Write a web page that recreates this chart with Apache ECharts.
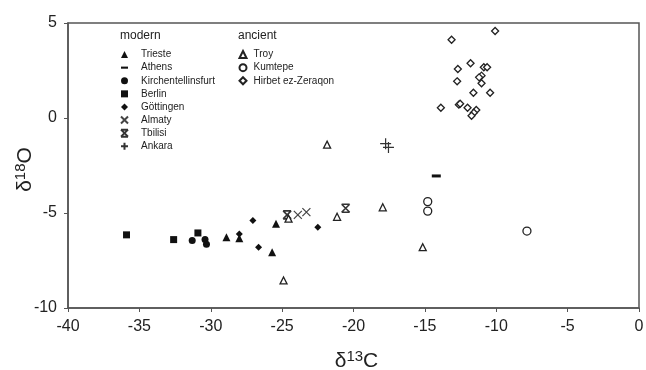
<!DOCTYPE html>
<html>
<head>
<meta charset="utf-8">
<script src="https://cdn.jsdelivr.net/npm/echarts@6/dist/echarts.min.js"></script>
<style>
  html, body { margin: 0; padding: 0; background: #fff; }
  #main { width: 646px; height: 370px; }
</style>
</head>
<body>
<div id="main"></div>
<script>
// tick labels
var xTicks = [-40, -35, -30, -25, -20, -15, -10, -5, 0];
var yTicks = [-10, -5, 0, 5];

// modern sites  [d13C, d18O]
var trieste = [[-28.9, -6.28], [-28.0, -6.33], [-25.7, -7.07], [-25.43, -5.56]];
var athens = [[-14.2, -3.05]];
var kirchentellinsfurt = [[-31.3, -6.45], [-30.4, -6.4], [-30.3, -6.65]];
var berlin = [[-35.9, -6.15], [-32.6, -6.4], [-30.9, -6.05]];
var goettingen = [[-28.0, -6.1], [-27.05, -5.4], [-26.65, -6.8], [-22.5, -5.75]];
var almaty = [[-23.9, -5.1], [-23.3, -4.95]];
var tbilisi = [[-24.65, -5.1], [-20.55, -4.75]];
var ankara = [[-17.75, -1.35], [-17.55, -1.55]];

// ancient sites
var troy = [[-21.85, -1.4], [-24.55, -5.3], [-21.15, -5.2], [-17.95, -4.7], [-15.15, -6.8], [-24.9, -8.55]];
var kumtepe = [[-14.8, -4.4], [-14.8, -4.9], [-7.85, -5.95]];
var hirbet = [[-10.08, 4.58], [-13.13, 4.12], [-11.8, 2.88], [-12.69, 2.58], [-10.87, 2.67], [-10.64, 2.67],
  [-11.03, 2.23], [-11.2, 2.14], [-11.03, 1.83], [-12.74, 1.93], [-11.6, 1.33], [-10.43, 1.33],
  [-13.88, 0.54], [-12.62, 0.7], [-12.53, 0.75], [-12.01, 0.54], [-11.4, 0.42], [-11.57, 0.28], [-11.73, 0.12]];

var modernNames = ['Trieste', 'Athens', 'Kirchentellinsfurt', 'Berlin', 'Göttingen', 'Almaty', 'Tbilisi', 'Ankara'];
var ancientNames = ['Troy', 'Kumtepe', 'Hirbet ez-Zeraqon'];

var ink = '#111';
function filled(name, data, symbol, size) {
  return { name: name, type: 'scatter', data: data, symbol: symbol, symbolSize: size,
    itemStyle: { color: ink, opacity: 1 } };
}
function open(name, data, symbol, size) {
  return { name: name, type: 'scatter', data: data, symbol: symbol, symbolSize: size,
    itemStyle: { color: '#fff', borderColor: '#222', borderWidth: 1.3, opacity: 1 } };
}
function stroked(name, data, path, size, col, w) {
  return { name: name, type: 'scatter', data: data, symbol: path, symbolSize: size,
    itemStyle: { color: 'none', borderColor: col, borderWidth: w, opacity: 1 } };
}

var series = [
  filled('Trieste', trieste, 'triangle', 8),
  filled('Athens', athens, 'path://M0,0H10V3H0Z', [9, 3]),
  filled('Kirchentellinsfurt', kirchentellinsfurt, 'circle', 7),
  filled('Berlin', berlin, 'rect', 7),
  filled('Göttingen', goettingen, 'diamond', 7),
  stroked('Almaty', almaty, 'path://M0,0L10,10M10,0L0,10', 8, '#444', 1.2),
  stroked('Tbilisi', tbilisi, 'path://M0,0H10M0,10H10M0,0L10,10M10,0L0,10', 8, '#333', 1.6),
  stroked('Ankara', ankara, 'path://M5,0V10M0,5H10', 11, '#333', 1.2),
  open('Troy', troy, 'triangle', 7),
  open('Kumtepe', kumtepe, 'circle', 8),
  open('Hirbet ez-Zeraqon', hirbet, 'diamond', 7)
];

var axisCol = '#555';
var legendText = { fontSize: 10, color: '#222', lineHeight: 13.1 };
var titleRich = {
  d: { fontSize: 21, color: '#222', fontFamily: 'Liberation Sans' },
  s: { fontSize: 15, color: '#222', verticalAlign: 'top', padding: [0, 0, 9, 0], fontFamily: 'Liberation Sans' }
};
var chart = echarts.init(document.getElementById('main'));
chart.setOption({
  animation: false,
  backgroundColor: '#fff',
  textStyle: { fontFamily: 'Liberation Sans, Arial, sans-serif' },
  grid: { left: 68, right: 7, top: 23, bottom: 62, show: true, borderColor: axisCol, borderWidth: 1.5,
    containLabel: false, outerBoundsMode: 'none' },
  graphic: [
    { type: 'text', left: 120, top: 30, style: { text: 'modern', fontSize: 12, fill: '#222', fontFamily: 'Liberation Sans' } },
    { type: 'text', left: 238, top: 30, style: { text: 'ancient', fontSize: 12, fill: '#222', fontFamily: 'Liberation Sans' } }
  ],
  legend: [
    { data: modernNames, orient: 'vertical', left: 118.5, top: 48, padding: 0, itemWidth: 7, itemHeight: 7, itemGap: 0,
      textStyle: Object.assign({ padding: [0, 0, 0, 8] }, legendText), selectedMode: false },
    { data: ancientNames, orient: 'vertical', left: 238.5, top: 48, padding: 0, itemWidth: 7, itemHeight: 7, itemGap: 0,
      textStyle: Object.assign({ padding: [0, 0, 0, 2] }, legendText), selectedMode: false }
  ],
  xAxis: {
    type: 'value', min: xTicks[0], max: xTicks[xTicks.length - 1], interval: 5,
    axisLine: { onZero: false, lineStyle: { color: axisCol, width: 1.5 } },
    axisTick: { show: true, length: 4, lineStyle: { color: axisCol } },
    splitLine: { show: false },
    axisLabel: { fontSize: 16, color: '#222', margin: 11 },
    name: '{d|δ}{s|13}{d|C}', nameLocation: 'middle', nameGap: 41,
    nameTextStyle: { padding: [0, 0, 0, 6], rich: titleRich }
  },
  yAxis: {
    type: 'value', min: yTicks[0], max: yTicks[yTicks.length - 1], interval: 5,
    axisLine: { onZero: false, lineStyle: { color: axisCol, width: 1.5 } },
    axisTick: { show: true, length: 4, lineStyle: { color: axisCol } },
    splitLine: { show: false },
    axisLabel: { fontSize: 16, color: '#222', margin: 11 },
    name: '{d|δ}{s|18}{d|O}', nameLocation: 'middle', nameGap: 31, nameRotate: 90, nameMoveOverlap: false,
    nameTextStyle: { padding: [0, 8, 0, 0], rich: titleRich }
  },
  series: series
});
</script>
</body>
</html>
